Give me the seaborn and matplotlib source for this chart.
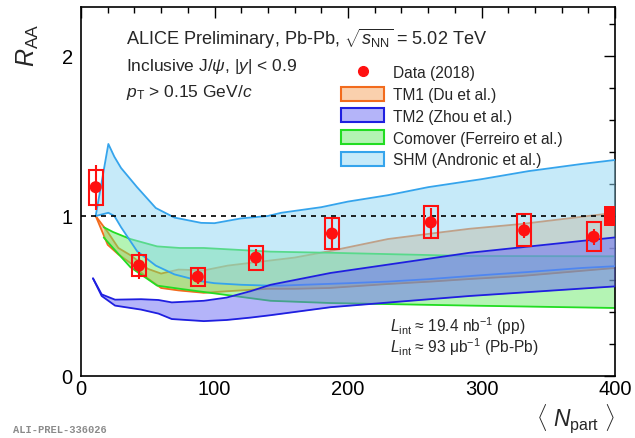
import numpy as np
import matplotlib
matplotlib.use("Agg")
import matplotlib.pyplot as plt
from matplotlib.patches import Rectangle, Patch
from matplotlib.lines import Line2D
import seaborn as sns

# ---------------- data ----------------
npart = [11, 43.5, 87.5, 131, 188, 262, 332, 384]
raa = [1.18, 0.69, 0.62, 0.74, 0.89, 0.96, 0.91, 0.87]
stat = [0.14, 0.085, 0.047, 0.055, 0.105, 0.09, 0.05, 0.05]
syst = [0.11, 0.066, 0.057, 0.075, 0.095, 0.10, 0.10, 0.09]
glob_unc = 0.062

tm1_n = [11, 20, 28, 38, 50, 60, 73, 92, 110, 140, 160, 186, 230, 262, 291, 330, 400]
tm1_hi = [1.0, 0.90, 0.80, 0.75, 0.67, 0.64, 0.665, 0.66, 0.69, 0.72, 0.74, 0.78, 0.856, 0.89, 0.92, 0.95, 1.02]
tm1_lo = [1.0, 0.82, 0.76, 0.70, 0.61, 0.55, 0.535, 0.52, 0.53, 0.545, 0.545, 0.55, 0.575, 0.59, 0.606, 0.625, 0.675]

tm2_n = [9, 15.5, 25.5, 45, 58, 68, 92, 109, 127, 142, 187, 291, 400]
tm2_hi = [0.61, 0.51, 0.477, 0.48, 0.475, 0.46, 0.47, 0.49, 0.53, 0.57, 0.644, 0.77, 0.866]
tm2_lo = [0.61, 0.50, 0.44, 0.415, 0.39, 0.356, 0.343, 0.35, 0.365, 0.38, 0.43, 0.50, 0.56]

com_n = [17, 24, 37, 57, 74, 92, 142, 187, 291, 400]
com_hi = [0.93, 0.90, 0.856, 0.81, 0.80, 0.80, 0.777, 0.77, 0.75, 0.748]
com_lo = [0.866, 0.80, 0.68, 0.565, 0.545, 0.525, 0.47, 0.456, 0.44, 0.425]

shm_n = [11, 20.5, 25, 30, 42, 56, 70, 90, 100, 120, 140, 150, 180, 200, 230, 260, 300, 335, 375, 400]
shm_hi = [1.0, 1.45, 1.37, 1.30, 1.18, 1.05, 0.99, 0.957, 0.955, 0.985, 1.0, 1.02, 1.055, 1.09, 1.13, 1.18, 1.23, 1.28, 1.325, 1.35]
shm_lo = [1.0, 1.02, 1.0, 0.93, 0.78, 0.69, 0.635, 0.592, 0.58, 0.57, 0.565, 0.565, 0.574, 0.58, 0.59, 0.605, 0.63, 0.65, 0.675, 0.686]

legend_labels = ["Data (2018)", "TM1 (Du et al.)", "TM2 (Zhou et al.)",
                 "Comover (Ferreiro et al.)", "SHM (Andronic et al.)"]

# ---------------- style ----------------
sns.set_theme(style="white")
plt.rcParams["font.family"] = ["Liberation Sans", "DejaVu Sans"]
plt.rcParams["mathtext.fontset"] = "custom"
plt.rcParams["mathtext.rm"] = "Liberation Sans"
plt.rcParams["mathtext.it"] = "Liberation Sans:italic"
plt.rcParams["mathtext.bf"] = "Liberation Sans:bold"

fig = plt.figure(figsize=(6.35, 4.39), dpi=100)
ax = fig.add_axes([81 / 635, 1 - 377 / 439, (615 - 81) / 635, (377 - 8) / 439])

models = [
    ("TM1", tm1_n, tm1_lo, tm1_hi, "#f26b1d", "#f7a35c", 1),
    ("Comover", com_n, com_lo, com_hi, "#22dd22", "#6aeb6a", 2),
    ("SHM", shm_n, shm_lo, shm_hi, "#35a4ec", "#8ed7f5", 3),
    ("TM2", tm2_n, tm2_lo, tm2_hi, "#1f1fe0", "#6a6af5", 4),
]
for name, n, lo, hi, lc, fc, z in models:
    ax.fill_between(n, lo, hi, color=fc, alpha=0.5, lw=0, zorder=z)
    sns.lineplot(x=n, y=hi, ax=ax, color=lc, lw=1.3, zorder=z, sort=False)
    sns.lineplot(x=n, y=lo, ax=ax, color=lc, lw=1.3, zorder=z, sort=False)

ax.axhline(1.0, color="black", ls=(0, (3, 3)), lw=1.2, zorder=5)

# data: syst boxes, stat bars, points
red = "#ff1010"
bw = 5.2
for x, y, s in zip(npart, raa, syst):
    ax.add_patch(Rectangle((x - bw, y - s), 2 * bw, 2 * s, fill=False,
                           edgecolor=red, lw=1.5, zorder=6))
ax.errorbar(npart, raa, yerr=stat, fmt="none", ecolor=red, elinewidth=1.5,
            capsize=0, zorder=7)
sns.scatterplot(x=npart, y=raa, ax=ax, color=red, s=75, edgecolor="none",
                zorder=8, legend=False)
ax.add_patch(Rectangle((392, 1 - glob_unc), 8, 2 * glob_unc, facecolor=red,
                       edgecolor="none", zorder=8, clip_on=False))

# axes
ax.set_xlim(0, 400)
ax.set_ylim(0, 2.306)
ax.set_xticks([0, 100, 200, 300, 400])
ax.set_xticks(np.arange(0, 401, 20), minor=True)
ax.set_yticks([0, 1, 2])
ax.set_yticks(np.arange(0, 2.31, 0.2), minor=True)
ax.tick_params(which="both", direction="in", top=True, right=True,
               colors="black", labelsize=14.5)
ax.tick_params(which="major", length=8, width=1.0)
ax.tick_params(which="minor", length=4.5, width=1.0)
ax.tick_params(axis="y", which="major", pad=6)
ax.tick_params(axis="x", which="major", pad=2)
for sp in ax.spines.values():
    sp.set_color("black")
    sp.set_linewidth(1.2)
ax.set_xlabel("")
ax.set_ylabel("")

fig.text(28 / 635, 1 - 45 / 439, r"$R_{\rm AA}$", rotation=90, fontsize=18,
         ha="center", va="center")
fig.text(615 / 635, 1 - 419 / 439, r"$\langle\ N_{\rm part}\ \rangle$",
         fontsize=16.5, ha="right", va="center")

fig.text(126 / 635, 1 - 39 / 439,
         r"ALICE Preliminary, Pb-Pb, $\sqrt{s_{\rm NN}}$ = 5.02 TeV",
         fontsize=13.1, ha="left", va="center")
fig.text(126 / 635, 1 - 66 / 439, r"Inclusive J/$\psi$, |$y$| < 0.9",
         fontsize=12.5, ha="left", va="center")
fig.text(126 / 635, 1 - 93 / 439, r"$p_{\rm T}$ > 0.15 GeV/$c$",
         fontsize=12.5, ha="left", va="center")

fig.text(390 / 635, 1 - 326 / 439, r"$L_{\rm int}$ ≈ 19.4 nb$^{-1}$ (pp)",
         fontsize=11.2, ha="left", va="center")
fig.text(390 / 635, 1 - 347 / 439, r"$L_{\rm int}$ ≈ 93 μb$^{-1}$ (Pb-Pb)",
         fontsize=11.2, ha="left", va="center")

fig.text(13 / 635, 1 - 430 / 439, "ALI-PREL-336026", fontsize=7.5,
         family="Liberation Mono", weight="bold", color="#8a8a8a",
         ha="left", va="center")

handles = [Line2D([0], [0], marker="o", color="none", markerfacecolor=red,
                  markeredgecolor=red, markersize=7)]
for (name, n, lo, hi, lc, fc, z) in [models[0], models[3], models[1], models[2]]:
    rgba = matplotlib.colors.to_rgba(fc, 0.5)
    handles.append(Patch(facecolor=rgba, edgecolor=lc, lw=1.5))
leg = fig.legend(handles, legend_labels, loc="upper left",
                 bbox_to_anchor=(333 / 635, 1 - 58 / 439), frameon=False,
                 fontsize=11.2, handlelength=2.8, handleheight=1.0,
                 labelspacing=0.42, handletextpad=0.55, borderpad=0)

fig.savefig("out.png", dpi=100)
